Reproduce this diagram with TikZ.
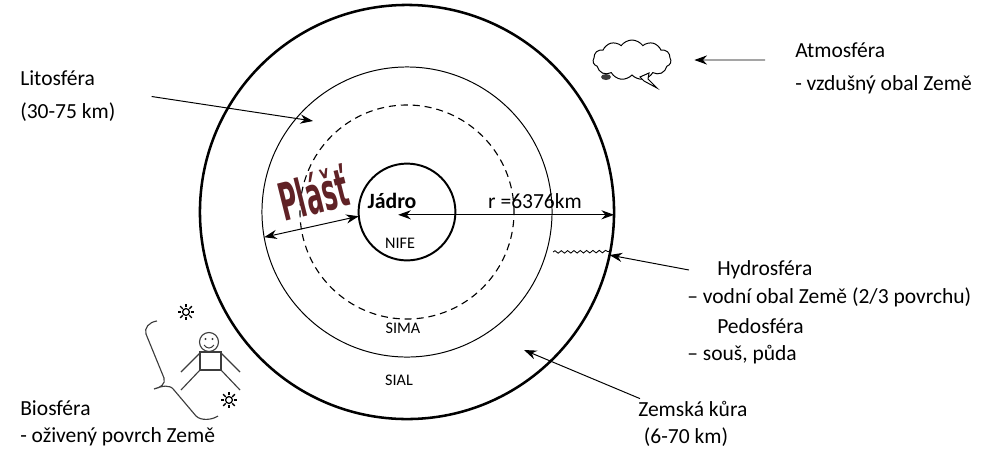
\documentclass[tikz,border=0pt]{standalone}
\usepackage{fontspec}
\setmainfont{Carlito}
\newfontfamily\plastfont[FakeStretch=0.47]{DejaVu Sans}
\usetikzlibrary{arrows.meta,shapes.symbols,decorations.pathmorphing}

\definecolor{plastred}{RGB}{96,34,38}
\definecolor{kresba}{RGB}{60,60,60}

\tikzset{
  vrstva/.style={circle,draw,inner sep=0pt,outer sep=0pt},
  popis/.style={anchor=west,align=left,inner sep=0pt,font=\fontsize{15.3}{23.4}\selectfont},
  maly/.style={inner sep=0pt,font=\fontsize{11.5}{13}\selectfont},
  sipka/.style={-{Stealth[length=9pt,width=6.5pt]},line width=0.7pt},
  sun/.pic={
    \draw[line width=0.9pt] (0,0) circle (3.4);
    \foreach \a in {0,45,...,315}
      \draw[line width=1pt] (\a:4.6) -- (\a:8.2);
  }
}

\begin{document}
\begin{tikzpicture}[x=0.025cm,y=-0.025cm]
  \useasboundingbox (0,0) rectangle (1008,449);

  % Earth: crust, lithosphere, mantle boundary, core
  \node[vrstva,line width=1.8pt,minimum size=10.35cm] (earth) at (407,212) {};
  \node[vrstva,line width=0.7pt,minimum size=7.25cm] (lito) at (407,212) {};
  \node[vrstva,line width=0.8pt,dash pattern=on 5pt off 3.5pt,minimum size=5.35cm] (mantle) at (407,212) {};
  \node[vrstva,line width=1.4pt,minimum size=2.42cm] (core) at (407,212) {};

  % Texts inside the globe
  \node[inner sep=0pt,font=\fontsize{15.5}{18}\selectfont\bfseries] (jadro) at (392,201) {Jádro};
  \node[maly] (nife) at (400,243) {NIFE};
  \node[maly] (sima) at (403,328) {SIMA};
  \node[maly] (sial) at (399,380) {SIAL};
  \node[inner sep=0pt,font=\fontsize{15.3}{18}\selectfont] (polomer) at (535,201) {r =6376km};
  \node[rotate=14,inner sep=0pt,text=plastred,font=\plastfont\fontsize{37}{39}\selectfont\bfseries] (plast) at (313,193) {Plášť};

  % Radius and mantle arrows
  \draw[{Stealth[length=9pt,width=6.5pt]}-{Stealth[length=9pt,width=6.5pt]},line width=0.7pt] ([xshift=-0.22cm,yshift=-0.07cm]core.center) -- ([yshift=-0.07cm]earth.east);
  \draw[{Stealth[length=9pt,width=6.5pt]}-{Stealth[length=9pt,width=6.5pt]},line width=0.7pt] (lito.190) -- (core.185);

  % Water on the surface
  \draw[line width=0.6pt,decorate,decoration={snake,amplitude=0.9pt,segment length=4.5pt}] (553,252) -- (earth.-11);

  % Cloud with a lightning
  \node[cloud,draw,line width=0.7pt,cloud puffs=11,cloud puff arc=110,aspect=2.2,
        minimum width=1.95cm,minimum height=1.0cm,inner sep=0pt] (cloud) at (632,60) {};
  \draw[line width=0.7pt,fill=white] (640,77) -- (649,73) -- (648,79) -- (657,88) -- (644,81) -- cycle;
  \fill[kresba] (606,77) ellipse (5 and 3);

  % Stick figure with suns
  \draw[kresba,line width=0.8pt] (209,342) circle (9.5);
  \fill[kresba] (205.5,339) circle (1.1);
  \fill[kresba] (212.5,339) circle (1.1);
  \draw[kresba,line width=0.7pt] (204,345) .. controls (207,349) and (211,349) .. (214,345);
  \draw[kresba,line width=0.8pt] (200,352) rectangle (221,370);
  \draw[kresba,line width=0.8pt] (200,353) -- (181,372);
  \draw[kresba,line width=0.8pt] (221,353) -- (240,372);
  \draw[kresba,line width=0.8pt] (200,370) -- (181,390);
  \draw[kresba,line width=0.8pt] (221,370) -- (240,390);
  \pic at (186,312) {sun};
  \pic at (229,400) {sun};

  % Brace in front of the figure
  \draw[kresba,line width=0.8pt] (157,321) .. controls (149,322) and (144,328) .. (146,334)
    -- (164,378) .. controls (166,384) and (160,388) .. (154,389)
    .. controls (162,386) and (170,384) .. (174,390)
    -- (196,416) .. controls (201,421) and (212,420) .. (218,416);

  % Left side labels
  \node[popis] (litolbl) at (20,96.5) {Litosféra\\(30-75 km)};
  \coordinate (litopt) at (313,121);
  \draw[sipka] ([xshift=0.9cm]litolbl.east) -- (litopt);

  \node[popis,font=\fontsize{15.3}{19.2}\selectfont] (biolbl) at (20,423.5) {Biosféra\\- oživený povrch Země};

  % Right side labels
  \node[popis] (atmolbl) at (795,68.5) {Atmosféra\\- vzdušný obal Země};
  \draw[sipka] ([shift={(-30,-8.5)}]atmolbl.west) -- ([shift={(23,0)}]cloud.east);

  \node[popis] (hydro) at (717,270) {Hydrosféra};
  \node[popis] (hydro2) at (687,297) {– vodní obal Země (2/3 povrchu)};
  \node[popis] (pedo) at (717,326) {Pedosféra};
  \node[popis] (pedo2) at (687,355) {– souš, půda};
  \draw[sipka] ([xshift=-0.7cm]hydro.west) -- (earth.-12);

  \node[popis,font=\fontsize{15.3}{19.2}\selectfont] (zemelbl) at (638,423.5) {Zemská kůra\\\hspace*{4pt}(6-70 km)};
  \coordinate (krustpt) at (524,350);
  \draw[sipka] ([shift={(2,-2)}]zemelbl.north west) -- (krustpt);
\end{tikzpicture}
\end{document}
